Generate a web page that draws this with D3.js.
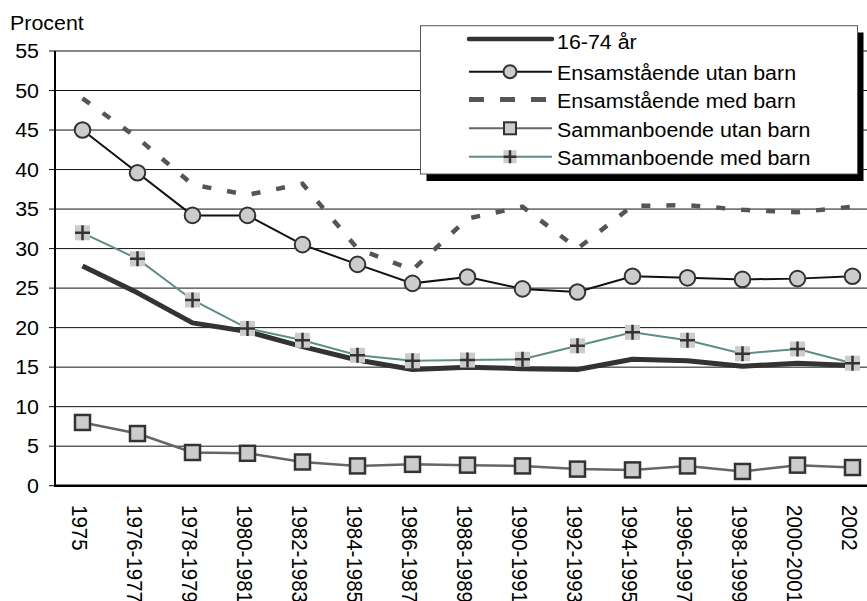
<!DOCTYPE html>
<html><head><meta charset="utf-8">
<script src="https://cdn.jsdelivr.net/npm/d3@7"></script>
<style>html,body{margin:0;padding:0;background:#fff;overflow:hidden}svg{display:block}text{font-family:"Liberation Sans",Arial,sans-serif;fill:#000}</style>
</head><body>
<script>
const categories = ["1975","1976-1977","1978-1979","1980-1981","1982-1983","1984-1985","1986-1987","1988-1989","1990-1991","1992-1993","1994-1995","1996-1997","1998-1999","2000-2001","2002"];
const yTickValues = [0,5,10,15,20,25,30,35,40,45,50,55];
const seriesNames = ["16-74 år","Ensamstående utan barn","Ensamstående med barn","Sammanboende utan barn","Sammanboende med barn"];
const total = [27.8,24.4,20.6,19.5,17.6,15.9,14.7,15.0,14.8,14.7,16.0,15.8,15.1,15.5,15.2];
const ensUtan = [45.0,39.6,34.2,34.2,30.5,28.0,25.6,26.4,24.9,24.5,26.5,26.3,26.1,26.2,26.5];
const ensMed = [49.0,44.0,38.1,36.8,38.2,30.0,27.3,33.8,35.3,30.0,35.4,35.5,34.9,34.6,35.3];
const samUtan = [8.0,6.6,4.2,4.1,3.0,2.5,2.7,2.6,2.5,2.1,2.0,2.5,1.8,2.6,2.3];
const samMed = [32.0,28.7,23.5,19.9,18.4,16.5,15.8,15.9,16.0,17.7,19.4,18.4,16.7,17.3,15.5];
const yTitle = "Procent";

const W = 867, H = 601, SX = 1.07, FS = 20;
const svg = d3.select("body").append("svg").attr("width", W).attr("height", H);

const x = d3.scalePoint().domain(categories).range([55, 880]).padding(0.5);
const y = d3.scaleLinear().domain([0, 55]).range([485.7, 51]);

function stext(g, tx, ty, str, anchor, rot, fs) {
  return g.append("text")
    .attr("transform", `translate(${tx},${ty}) scale(${SX},1)` + (rot ? ` rotate(${rot})` : ""))
    .attr("text-anchor", anchor || "start")
    .attr("dominant-baseline", "central")
    .style("font-size", (fs || FS) + "px")
    .text(str);
}

// gridlines
svg.append("g").selectAll("line").data(yTickValues.filter(v => v > 0)).join("line")
  .attr("x1", 49).attr("x2", W).attr("y1", d => y(d)).attr("y2", d => y(d))
  .attr("stroke", "#111").attr("stroke-width", 1);
svg.append("line").attr("x1", 49).attr("x2", 55).attr("y1", y(0)).attr("y2", y(0)).attr("stroke", "#000").attr("stroke-width", 1);

// y labels
const yl = svg.append("g");
yTickValues.forEach(v => stext(yl, 39, y(v), String(v), "end"));
stext(svg, 10, 22.5, yTitle, "start");

// x labels
const xl = svg.append("g");
categories.forEach(c => stext(xl, x(c) - 2.5, 505, c, "start", 90, 20.5));

// axes
svg.append("line").attr("x1", 55).attr("x2", 55).attr("y1", y(55)).attr("y2", y(0) + 1).attr("stroke", "#000").attr("stroke-width", 2);
svg.append("line").attr("x1", 54).attr("x2", W).attr("y1", y(0)).attr("y2", y(0)).attr("stroke", "#000").attr("stroke-width", 2.5);

const line = d3.line().x((d, i) => x(categories[i])).y(d => y(d));

// 16-74
svg.append("path").attr("d", line(total)).attr("fill", "none").attr("stroke", "#333").attr("stroke-width", 5).attr("stroke-linejoin", "round");

// Ensamstående utan barn
svg.append("path").attr("d", line(ensUtan)).attr("fill", "none").attr("stroke", "#111").attr("stroke-width", 2);
svg.append("g").selectAll("circle").data(ensUtan).join("circle")
  .attr("cx", (d, i) => x(categories[i])).attr("cy", d => y(d)).attr("r", 7.8)
  .attr("fill", "#cccccc").attr("stroke", "#333").attr("stroke-width", 2);

// Ensamstående med barn
svg.append("path").attr("d", line(ensMed)).attr("fill", "none").attr("stroke", "#555").attr("stroke-width", 4.5).attr("stroke-dasharray", "9,16");

// Sammanboende utan barn
svg.append("path").attr("d", line(samUtan)).attr("fill", "none").attr("stroke", "#666").attr("stroke-width", 2.5);
svg.append("g").selectAll("rect").data(samUtan).join("rect")
  .attr("x", (d, i) => x(categories[i]) - 7.5).attr("y", d => y(d) - 7.5).attr("width", 15).attr("height", 15)
  .attr("fill", "#cccccc").attr("stroke", "#333").attr("stroke-width", 2.5);

// Sammanboende med barn
svg.append("path").attr("d", line(samMed)).attr("fill", "none").attr("stroke", "#5f8c89").attr("stroke-width", 2);
const pm = svg.append("g").selectAll("g").data(samMed).join("g")
  .attr("transform", (d, i) => `translate(${x(categories[i])},${y(d)})`);
pm.append("rect").attr("x", -7.5).attr("y", -7.5).attr("width", 15).attr("height", 15).attr("fill", "#cccccc");
pm.append("path").attr("d", "M-7.5,0H7.5M0,-7.5V7.5").attr("stroke", "#333").attr("stroke-width", 2.5);

// legend
const lg = svg.append("g");
lg.append("rect").attr("x", 426.5).attr("y", 32.5).attr("width", 437).attr("height", 148.5).attr("fill", "#000");
lg.append("rect").attr("x", 420.5).attr("y", 25.7).attr("width", 437).attr("height", 148.3).attr("fill", "#fff").attr("stroke", "#555").attr("stroke-width", 1);
const rowY = [40, 71.7, 99.6, 128.3, 156.7];
const lx1 = 469, lx2 = 552, lmx = 510, ltx = 557;
lg.append("line").attr("x1", lx1).attr("x2", lx2).attr("y1", rowY[0] - 1).attr("y2", rowY[0] - 1).attr("stroke", "#333").attr("stroke-width", 4.5).attr("stroke-linecap", "round");
lg.append("line").attr("x1", lx1).attr("x2", lx2).attr("y1", rowY[1]).attr("y2", rowY[1]).attr("stroke", "#111").attr("stroke-width", 2);
lg.append("circle").attr("cx", lmx).attr("cy", rowY[1]).attr("r", 6.5).attr("fill", "#ccc").attr("stroke", "#333").attr("stroke-width", 2);
lg.append("line").attr("x1", lx1).attr("x2", lx2).attr("y1", rowY[2]).attr("y2", rowY[2]).attr("stroke", "#555").attr("stroke-width", 5).attr("stroke-dasharray", "15,16");
lg.append("line").attr("x1", lx1).attr("x2", lx2).attr("y1", rowY[3]).attr("y2", rowY[3]).attr("stroke", "#666").attr("stroke-width", 2);
lg.append("rect").attr("x", lmx - 6).attr("y", rowY[3] - 6).attr("width", 12).attr("height", 12).attr("fill", "#ccc").attr("stroke", "#333").attr("stroke-width", 2);
lg.append("line").attr("x1", lx1).attr("x2", lx2).attr("y1", rowY[4]).attr("y2", rowY[4]).attr("stroke", "#5f8c89").attr("stroke-width", 2);
lg.append("rect").attr("x", lmx - 6.5).attr("y", rowY[4] - 6.5).attr("width", 13).attr("height", 13).attr("fill", "#ccc");
lg.append("path").attr("d", `M${lmx - 6.5},${rowY[4]}H${lmx + 6.5}M${lmx},${rowY[4] - 6.5}V${rowY[4] + 6.5}`).attr("stroke", "#333").attr("stroke-width", 2.5);
seriesNames.forEach((n, i) => stext(lg, ltx, rowY[i] + 1.5, n, "start"));
</script>
</body></html>
